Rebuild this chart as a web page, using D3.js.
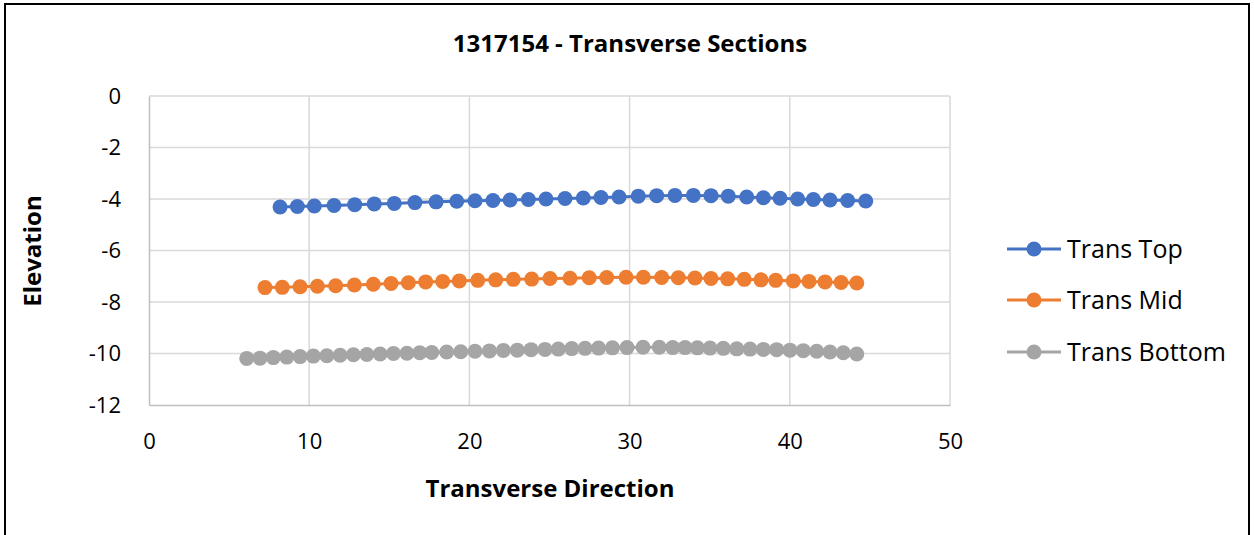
<!DOCTYPE html>
<html>
<head>
<meta charset="utf-8">
<script src="https://cdn.jsdelivr.net/npm/d3@7"></script>
<style>
  html, body { margin: 0; padding: 0; background: #fff; }
  svg { display: block; font-family: "Open Sans", Lato, "Liberation Sans", sans-serif; }
</style>
</head>
<body>
<svg id="chart" width="1254" height="535"></svg>
<script>
// ---- Data ----
const chartTitle = "1317154 - Transverse Sections";
const xTitle = "Transverse Direction";
const yTitle = "Elevation";
const seriesNames = ["Trans Top", "Trans Mid", "Trans Bottom"];
const seriesColors = ["#4472C4", "#ED7D31", "#A5A5A5"];
const xTicks = [0, 10, 20, 30, 40, 50];
const yTicks = [0, -2, -4, -6, -8, -10, -12];

const topX = [8.18, 9.26, 10.32, 11.55, 12.84, 14.06, 15.31, 16.60, 17.92, 19.21, 20.35, 21.47, 22.54, 23.68, 24.78, 25.97, 27.11, 28.21, 29.34, 30.54, 31.69, 32.83, 33.98, 35.08, 36.16, 37.31, 38.35, 39.39, 40.49, 41.47, 42.51, 43.61, 44.74];
const topY = [-4.31, -4.29, -4.27, -4.25, -4.22, -4.19, -4.17, -4.14, -4.11, -4.09, -4.07, -4.06, -4.04, -4.02, -4.00, -3.98, -3.96, -3.94, -3.92, -3.89, -3.87, -3.86, -3.86, -3.87, -3.89, -3.92, -3.95, -3.97, -4.00, -4.02, -4.04, -4.06, -4.08];

const midX = [7.24, 8.32, 9.43, 10.51, 11.65, 12.82, 14.00, 15.11, 16.19, 17.27, 18.33, 19.37, 20.52, 21.64, 22.74, 23.89, 25.03, 26.28, 27.48, 28.57, 29.78, 30.86, 32.00, 33.04, 34.08, 35.08, 36.12, 37.16, 38.20, 39.12, 40.22, 41.20, 42.20, 43.20, 44.18];
const midY = [-7.44, -7.43, -7.41, -7.39, -7.37, -7.34, -7.31, -7.28, -7.25, -7.22, -7.20, -7.18, -7.16, -7.14, -7.12, -7.11, -7.09, -7.08, -7.06, -7.05, -7.04, -7.04, -7.05, -7.06, -7.07, -7.09, -7.10, -7.12, -7.14, -7.16, -7.18, -7.20, -7.22, -7.24, -7.26];

const botX = [6.10, 6.93, 7.76, 8.60, 9.43, 10.26, 11.10, 11.93, 12.76, 13.60, 14.43, 15.26, 16.10, 16.90, 17.65, 18.58, 19.46, 20.35, 21.25, 22.12, 22.99, 23.85, 24.72, 25.55, 26.39, 27.22, 28.06, 28.93, 29.84, 30.84, 31.85, 32.69, 33.46, 34.23, 35.02, 35.85, 36.69, 37.52, 38.35, 39.18, 40.01, 40.84, 41.68, 42.51, 43.34, 44.18];
const botY = [-10.19, -10.18, -10.16, -10.14, -10.12, -10.10, -10.09, -10.07, -10.05, -10.04, -10.02, -10.00, -9.99, -9.97, -9.96, -9.94, -9.93, -9.91, -9.90, -9.88, -9.87, -9.85, -9.84, -9.83, -9.81, -9.80, -9.79, -9.78, -9.77, -9.76, -9.76, -9.77, -9.77, -9.78, -9.79, -9.80, -9.82, -9.83, -9.84, -9.85, -9.87, -9.89, -9.91, -9.94, -9.97, -10.02];

const seriesData = [
  topX.map((x, i) => ({x, y: topY[i]})),
  midX.map((x, i) => ({x, y: midY[i]})),
  botX.map((x, i) => ({x, y: botY[i]}))
];

// ---- Layout ----
const plot = {left: 149, right: 950, top: 96, bottom: 405};
const svg = d3.select("#chart");
const FONT = '"Open Sans", Lato, sans-serif';

// outer border
svg.append("rect").attr("x", 5).attr("y", 4).attr("width", 1244).attr("height", 560)
  .attr("fill", "#fff").attr("stroke", "#000").attr("stroke-width", 2);

const x = d3.scaleLinear().domain([0, 50]).range([plot.left, plot.right]);
const y = d3.scaleLinear().domain([-12, 0]).range([plot.bottom, plot.top]);

// gridlines
const grid = svg.append("g");
grid.selectAll("line.v").data(xTicks.filter(t => t !== 0)).join("line")
  .attr("x1", d => x(d)).attr("x2", d => x(d)).attr("y1", plot.top).attr("y2", plot.bottom)
  .attr("stroke", "#d9d9d9").attr("stroke-width", 1.5);
grid.selectAll("line.h").data(yTicks.filter(t => t !== -12)).join("line")
  .attr("y1", d => y(d)).attr("y2", d => y(d)).attr("x1", plot.left).attr("x2", plot.right)
  .attr("stroke", "#d9d9d9").attr("stroke-width", 1.5);

// axes
const fmt = d => String(d);
const xAxis = d3.axisBottom(x).tickValues(xTicks).tickFormat(fmt).tickSize(0).tickPadding(28);
const gx = svg.append("g").attr("transform", `translate(0,${plot.bottom})`).call(xAxis);
gx.select(".domain").attr("stroke", "#bfbfbf").attr("stroke-width", 1.5);
gx.selectAll("text").attr("font-size", 22).attr("fill", "#000").attr("font-family", FONT);

const yAxis = d3.axisLeft(y).tickValues(yTicks).tickFormat(fmt).tickSize(0).tickPadding(28);
const gy = svg.append("g").attr("transform", `translate(${plot.left},0)`).call(yAxis);
gy.select(".domain").attr("stroke", "#bfbfbf").attr("stroke-width", 1.5);
gy.selectAll("text").attr("font-size", 22).attr("fill", "#000").attr("font-family", FONT);

// series
const line = d3.line().x(d => x(d.x)).y(d => y(d.y));
seriesData.forEach((data, i) => {
  const g = svg.append("g");
  g.append("path").datum(data).attr("d", line).attr("fill", "none")
    .attr("stroke", seriesColors[i]).attr("stroke-width", 3);
  g.selectAll("circle").data(data).join("circle")
    .attr("cx", d => x(d.x)).attr("cy", d => y(d.y)).attr("r", 7.5)
    .attr("fill", seriesColors[i]);
});

// title
svg.append("text").attr("x", 630).attr("y", 52).attr("text-anchor", "middle")
  .attr("font-size", 24).attr("font-weight", "bold").text(chartTitle);

// axis titles
svg.append("text").attr("x", 550).attr("y", 497).attr("text-anchor", "middle")
  .attr("font-size", 24).attr("font-weight", "bold").text(xTitle);
svg.append("text").attr("transform", "translate(41,251) rotate(-90)").attr("text-anchor", "middle")
  .attr("font-size", 24).attr("font-weight", "bold").text(yTitle);

// legend
const legendY = [249, 300, 352];
seriesNames.forEach((name, i) => {
  const g = svg.append("g").attr("transform", `translate(1007,${legendY[i]})`);
  g.append("line").attr("x1", 0).attr("x2", 54).attr("y1", 0).attr("y2", 0)
    .attr("stroke", seriesColors[i]).attr("stroke-width", 3);
  g.append("circle").attr("cx", 27).attr("cy", 0).attr("r", 7.5).attr("fill", seriesColors[i]);
  g.append("text").attr("x", 60).attr("y", 0).attr("dy", "0.35em")
    .attr("font-size", 25).attr("fill", "#000").text(name);
});
</script>
</body>
</html>
